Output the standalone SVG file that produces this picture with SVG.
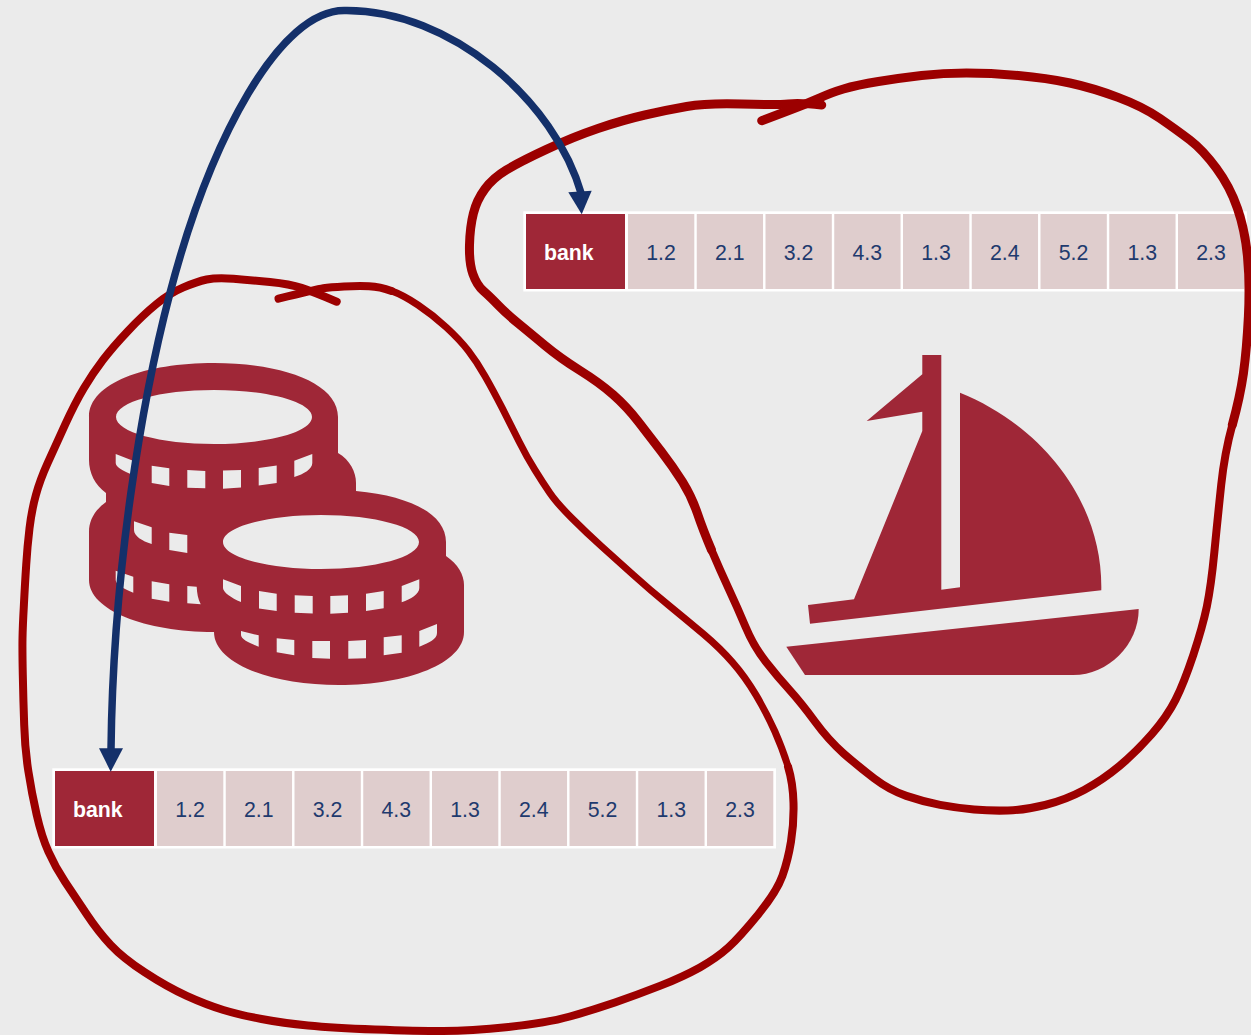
<svg xmlns="http://www.w3.org/2000/svg" width="1251" height="1035" viewBox="0 0 1251 1035">
<style>
.bg{fill:#ebebeb}
.icon{fill:#9f2737}
.frame{fill:#fff}
.head{fill:#9f2737}
.cell{fill:#dfcdcd}
.h{font:bold 21.3px "Liberation Sans",Arial,sans-serif;fill:#fff}
.v{font:21.3px "Liberation Sans",Arial,sans-serif;fill:#1e3a6e;text-anchor:middle}
.loop{fill:none;stroke:#9c0000;stroke-linecap:round;stroke-linejoin:round}
.arrow{fill:none;stroke:#14306a;stroke-width:7.500}
.tip{fill:#14306a}
</style>
<defs>
<g id="row">
<rect class="frame" x="-2.700" y="-2.700" width="723.700" height="80.200"/>
<rect class="head" x="0" y="0" width="99" height="75"/>
<rect class="cell" x="102" y="0" width="66.300" height="75"/>
<rect class="cell" x="170.750" y="0" width="66.300" height="75"/>
<rect class="cell" x="239.500" y="0" width="66.300" height="75"/>
<rect class="cell" x="308.250" y="0" width="66.300" height="75"/>
<rect class="cell" x="377" y="0" width="66.300" height="75"/>
<rect class="cell" x="445.750" y="0" width="66.300" height="75"/>
<rect class="cell" x="514.500" y="0" width="66.300" height="75"/>
<rect class="cell" x="583.250" y="0" width="66.300" height="75"/>
<rect class="cell" x="652" y="0" width="66.300" height="75"/>
<text class="h" x="18" y="46">bank</text>
<text class="v" x="135" y="46">1.2</text>
<text class="v" x="203.750" y="46">2.1</text>
<text class="v" x="272.500" y="46">3.2</text>
<text class="v" x="341.250" y="46">4.3</text>
<text class="v" x="410" y="46">1.3</text>
<text class="v" x="478.750" y="46">2.4</text>
<text class="v" x="547.500" y="46">5.2</text>
<text class="v" x="616.250" y="46">1.3</text>
<text class="v" x="685" y="46">2.3</text>
</g>
</defs>
<rect class="bg" width="1251" height="1035"/>
<g id="coins">
<path class="icon" fill-rule="evenodd" d="M89 417C89 383 145 363 214 363C283 363 338 383 338 417V453C350 460 356 472 356 483V491C410 496 446 514 446 542V556C458 564 464 575 464 585V632C464 663 408 685 339 685C270 685 214 663 214 632C145 632 89 610 89 580V532C89 520 95 510 106 502V493C95 485 89 473 89 460Z
M116 417C116 402 160 390 214 390C268 390 312 402 312 417C312 432 268 444 214 444C160 444 116 432 116 417Z
M223 542C223 527 267 515 321 515C375 515 419 527 419 542C419 557 375 569 321 569C267 569 223 557 223 542Z
M115.700 454L133 460.700V475C123 471 115.700 467 115.700 463Z
M151.700 465.700L169.300 468.300V486L151.700 483Z
M187.300 470L205.300 471V488.300L187.300 487.700Z
M223 470.500L241 470V487.500L223 488.700Z
M258.700 468L276.700 465.500V483L258.700 485.500Z
M294.300 460.700L312.300 454V463C312.300 469 304 474 294.300 477Z
M134 521.300L151.700 527.300V544C142 541 134 536 134 530Z
M169.300 532.700L187.300 535V553L169.300 550Z
M115.700 570.700L133.300 576.700V592.700C124 589 115.700 585 115.700 580Z
M151.700 581.300L169.300 584.300V601.700L151.700 598.700Z
M187.300 586L196.700 586.700C197 593 198 599 200.700 604.300L187.300 603.300Z
M223 579.300L241 586V602C231 598 223 592 223 588Z
M259 591L276.700 593.700V611L259 608.500Z
M294.700 595.300L312.700 596V613.500L294.700 612.700Z
M330.300 596L348 595.300V612.700L330.300 613.700Z
M366 593.700L383.700 591V608.300L366 611Z
M401.700 586L419.300 579.300V588C419.300 594 411 599 401.700 602.300Z
M241 631L258.700 635.300V646.700C249 643 241 639 241 635Z
M276.700 638.300L294.300 640V655.300L276.700 652.300Z
M312.300 641L330 641V658.700L312.300 658Z
M348.300 641L366 640V658.300L348.300 658.700Z
M383.700 637.300L401.700 635.300V652.700L383.700 655.300Z
M419.300 631L437 624V633C437 639 429 643 419.300 646.700Z"/>
</g>
<g id="sailboat">
<path class="icon" d="M922.300 355H941.300V589.700L960 587.300V392.700C1040 425 1103 500 1101.300 590.300L810 623.700L808 605L854 599.300L922.300 431V411.700L866.700 421L922.300 374.300Z"/>
<path class="icon" d="M786.300 646.700L1138.700 609C1138.700 645 1108 675 1073.300 675H805Z"/>
</g>
<g id="table-top"><use href="#row" x="526" y="214"/></g>
<g id="table-bottom"><use href="#row" x="55" y="771"/></g>
<g id="connectors">
<g id="loop-bottom">
<path class="loop" stroke-width="8" d="M336.700 301.700Q313 291.700 301.500 287.900Q290 284 270 282Q250 280 233.400 278.700Q216.700 277.300 206.700 279.500Q196.700 281.700 183.400 287.400Q170 293 156.500 304Q143 315 128 330.900Q113 346.700 103 359.900Q93 373 84 388Q75 403 65 424.900Q55 446.700 47.500 463.400Q40 480 35.900 495Q31.700 510 29.500 528.400Q27.300 546.700 26.200 564.900Q25 583 23.900 604.900Q22.700 626.700 22.500 638.400Q22.300 650 22.800 675Q23.300 700 24.200 725Q25 750 28.400 771.500Q31.700 793 36.700 814.900Q41.700 836.700 48.400 851.700Q55 866.700 65 881.700Q75 896.700 86.700 914.200Q98.300 931.700 110.700 944.900Q123 958 144.900 972.400Q166.700 986.700 186.700 995.900Q206.700 1005 223.400 1010Q240 1015 261.500 1019Q283 1023 308 1025.500Q333 1028 374.900 1029.500Q416.700 1031 443.400 1031Q470 1031 508.400 1027Q546.700 1023 569.900 1016.500Q593 1010 614.900 1002.500Q636.700 995 659.900 985.900Q683 976.700 699.900 967.400Q716.700 958 728.400 947.400Q740 936.700 758.400 914.200Q776.700 891.700 782.400 875.900Q788 860 791 841.500Q794 823 793.500 803Q793 783 788 766.500"/>
<path class="loop" stroke-width="7" d="M788 766.500Q783 750 774.900 731.500Q766.700 713 755.900 694.900Q745 676.700 732.500 662.400Q720 648 703.400 634Q686.700 620 668.400 605Q650 590 633.400 575Q616.700 560 601.700 546.500Q586.700 533 571.700 518Q556.700 503 549.900 493Q543 483 534.900 469.900Q526.700 456.700 519.200 441.700Q511.700 426.700 502.400 408.400Q493 390 484.900 375.900Q476.700 361.700 468.400 350.900Q460 340 446.500 327.500Q433 315 418 305Q403 295 391.500 290.900"/>
<path class="loop" stroke-width="8" d="M391.500 290.900Q380 286.700 369 286.200Q358 285.700 344 286.500Q330 287.300 323.400 288.300Q316.700 289.300 278.500 298.700"/>
</g>
<g id="loop-top">
<path class="loop" stroke-width="9" d="M821.700 105Q800 102.700 788.400 103.900Q776.700 105 741.700 104Q706.700 103 686.700 106.500Q666.700 110 644.900 115Q623 120 598 128.500Q573 137 546.500 149.400Q520 161.700 506.500 169.900Q493 178 484.900 189Q476.700 200 473.400 213.400Q470 226.700 469.500 244.900Q469 263 472.900 274Q476.700 285 483.400 290.900Q490 296.700 498.400 305.400Q506.700 314 518.400 323.500Q530 333 545 345.500Q560 358 580 370.500Q600 383 613.400 394.900Q626.700 406.700 638.400 421.700Q650 436.700 661.500 451.700Q673 466.700 682.400 481.700Q691.700 496.700 697.400 513.400Q703 530 711.500 550"/>
<path class="loop" stroke-width="8" d="M711.500 550Q720 570 728.500 588.400Q737 606.700 745.500 626.700Q753.900 646.700 765.800 661.700Q777.600 676.700 789.500 689.900Q801.300 703 814.900 721.500Q828.400 740 843.600 753.400Q858.800 766.700 874.100 778.400Q889.300 790 906.300 795.900Q923.200 801.700 940.100 804.900Q957 808 974 809.500Q990.900 811 1007.900 810.500Q1024.800 810 1045.100 805Q1065.400 800 1084.100 790Q1102.700 780 1119.600 765.900Q1136.500 751.700 1151.800 734.200Q1167 716.700 1175.500 699.900Q1183.900 683 1193.300 654.900Q1202.600 626.700 1206.800 606.700Q1211 586.700 1214.400 551.700Q1217.800 516.700 1221.200 484.900Q1224.600 453 1232.300 425"/>
<path class="loop" stroke-width="9" d="M1232.300 425Q1240 397 1243.400 373.500Q1246.700 350 1248.400 316.500Q1250 283 1247.500 256.500Q1245 230 1237.500 208.400Q1230 186.700 1216.500 168.400Q1203 150 1189.900 140Q1176.700 130 1159.900 118.400Q1143 106.700 1118 97.400Q1093 88 1069.900 83Q1046.700 78 1018.400 75.500Q990 73 966.500 73Q943 73 921.500 75.500Q900 78 878.400 81.500Q856.700 85 843.400 89Q830 93 820 97.900Q810 102.700 761.700 120.700"/>
</g>
<path id="link" class="arrow" d="M581.700 195C555 100 450 10 346 10.500C280 8 210 140 170 293C142 400 113 570 111 750"/>
<path class="tip" d="M581.700 214.300L568.300 192.300L591.700 190.700Z"/>
<path class="tip" d="M110.700 771.700L99 748.300H123Z"/>
</g>
</svg>
